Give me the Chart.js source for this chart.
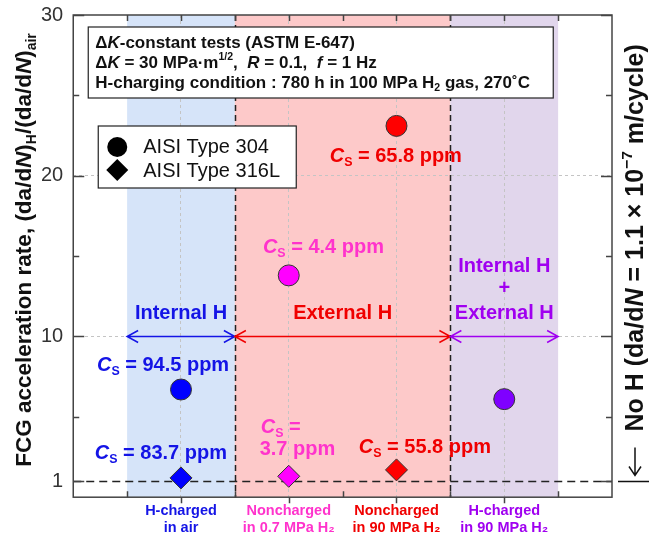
<!DOCTYPE html>
<html>
<head>
<meta charset="utf-8">
<script src="https://cdn.jsdelivr.net/npm/chart.js@4.4.0/dist/chart.umd.min.js"></script>
<style>
  body { margin: 0; background: #fff; }
</style>
</head>
<body>
<canvas id="chart" width="649" height="536"></canvas>
<script>
const categories = [['H-charged', 'in air'], ['Noncharged', 'in 0.7 MPa H₂'], ['Noncharged', 'in 90 MPa H₂'], ['H-charged', 'in 90 MPa H₂']]
const categoryPos = [1, 2, 3, 4]
const type304 = [6.7, 13.8, 23.1, 6.1]
const type316L = [1.2, 1.3, 1.7, null]
const pointColors = ['#0000ff', '#ff00ff', '#ff0000', '#7f00ff']
const textColors = ['#1414e6', '#ff33cc', '#f00000', '#a000f0']
const yTicks = [1, 5, 10, 15, 20, 25, 30]
const yLabeled = [1, 10, 20, 30]
const noHLevel = 1

const FAMILY = '"Liberation Sans", Arial, sans-serif'

function fnt(size, italic) {
    return (italic ? 'italic ' : '') + 'bold ' + size + 'px ' + FAMILY
}

// parts: {t, i (italic), sub, sup, n (normal weight)}
function richWidth(ctx, parts, size) {
    let w = 0
    parts.forEach(p => {
        let s = (p.sub || p.sup) ? size * 0.62 : size
        ctx.font = p.n ? (s + 'px ' + FAMILY) : fnt(s, p.i)
        w += ctx.measureText(p.t).width
    })
    return w
}

function drawRich(ctx, parts, x, y, size, color, align) {
    let w = richWidth(ctx, parts, size)
    let cx = align === 'center' ? x - w / 2 : x
    ctx.save()
    ctx.fillStyle = color
    ctx.textBaseline = 'middle'
    ctx.textAlign = 'left'
    parts.forEach(p => {
        let s = (p.sub || p.sup) ? size * 0.62 : size
        ctx.font = p.n ? (s + 'px ' + FAMILY) : fnt(s, p.i)
        let dy = p.sub ? size * 0.3 : (p.sup ? -size * 0.32 : 0)
        ctx.fillText(p.t, cx, y + dy)
        cx += ctx.measureText(p.t).width
    })
    ctx.restore()
}

function cs(value) {
    return [{t: 'C', i: true}, {t: 'S', sub: true}, {t: ' = ' + value + ' ppm'}]
}

function arrow(ctx, x1, x2, y, color) {
    ctx.save()
    ctx.strokeStyle = color
    ctx.lineWidth = 1.5
    ctx.beginPath()
    ctx.moveTo(x1, y); ctx.lineTo(x2, y)
    ctx.moveTo(x1 + 11, y - 6); ctx.lineTo(x1, y); ctx.lineTo(x1 + 11, y + 6)
    ctx.moveTo(x2 - 11, y - 6); ctx.lineTo(x2, y); ctx.lineTo(x2 - 11, y + 6)
    ctx.stroke()
    ctx.restore()
}

const bands = [[0.5, 1.5, '#d6e4f9'], [1.5, 3.5, '#fdc9c9'], [3.5, 4.5, '#e1d6ec']]

const backgroundPlugin = {
    id: 'bands',
    beforeDraw(chart) {
        const {ctx, chartArea: ca, scales: {x, y}} = chart
        ctx.save()
        bands.forEach(b => {
            ctx.fillStyle = b[2]
            ctx.fillRect(x.getPixelForValue(b[0]), ca.top, x.getPixelForValue(b[1]) - x.getPixelForValue(b[0]), ca.bottom - ca.top)
        })
        ctx.restore()
    },
    beforeDatasetsDraw(chart) {
        const {ctx, chartArea: ca, scales: {x, y}} = chart
        ctx.save()
        // separators
        ctx.strokeStyle = '#222'
        ctx.lineWidth = 1.5
        ctx.setLineDash([6, 4])
        ;[1.5, 3.5].forEach(v => {
            let px = Math.round(x.getPixelForValue(v)) + 0.5
            ctx.beginPath(); ctx.moveTo(px, ca.top); ctx.lineTo(px, ca.bottom); ctx.stroke()
        })
        // no-H reference
        let y1 = Math.round(y.getPixelForValue(noHLevel)) + 0.5
        ctx.setLineDash([8, 5])
        ctx.beginPath(); ctx.moveTo(ca.left, y1); ctx.lineTo(ca.right, y1); ctx.stroke()
        ctx.setLineDash([])

        // frame and ticks
        ctx.strokeStyle = '#444'
        ctx.lineWidth = 1.5
        ctx.strokeRect(ca.left, ca.top, ca.right - ca.left, ca.bottom - ca.top)
        ctx.beginPath()
        yTicks.forEach(v => {
            let py = Math.round(y.getPixelForValue(v)) + 0.5
            let len = yLabeled.includes(v) ? 11 : 6
            ctx.moveTo(ca.left, py); ctx.lineTo(ca.left + len, py)
            ctx.moveTo(ca.right, py); ctx.lineTo(ca.right - len, py)
        })
        for (let v = 0.5; v < 5; v += 0.5) {
            let px = Math.round(x.getPixelForValue(v)) + 0.5
            ctx.moveTo(px, ca.top); ctx.lineTo(px, ca.top + 6)
            if (v % 1 === 0) {
                ctx.moveTo(px, ca.bottom); ctx.lineTo(px, ca.bottom + 6)
            } else {
                ctx.moveTo(px, ca.bottom); ctx.lineTo(px, ca.bottom - 6)
            }
        }
        ctx.stroke()

        // region arrows
        let ya = y.getPixelForValue(10)
        arrow(ctx, x.getPixelForValue(0.5), x.getPixelForValue(1.5), ya, '#1414e6')
        arrow(ctx, x.getPixelForValue(1.5), x.getPixelForValue(3.5), ya, '#f00000')
        arrow(ctx, x.getPixelForValue(3.5), x.getPixelForValue(4.5), ya, '#a000f0')
        ctx.restore()
    },
    afterDraw(chart) {
        const {ctx, chartArea: ca, scales: {x, y}} = chart
        const X = v => x.getPixelForValue(v)
        const Y = v => y.getPixelForValue(v)

        // condition box
        ctx.save()
        ctx.fillStyle = '#fff'
        ctx.strokeStyle = '#222'
        ctx.lineWidth = 1.2
        ctx.fillRect(ca.left + 15, ca.top + 12, 465, 71)
        ctx.strokeRect(ca.left + 15, ca.top + 12, 465, 71)
        ctx.restore()
        let bx = ca.left + 22
        drawRich(ctx, [{t: 'Δ'}, {t: 'K', i: true}, {t: '-constant tests (ASTM E-647)'}], bx, ca.top + 28, 17, '#111')
        drawRich(ctx, [{t: 'Δ'}, {t: 'K', i: true}, {t: ' = 30 MPa·m'}, {t: '1/2', sup: true}, {t: ',  '}, {t: 'R', i: true},
            {t: ' = 0.1,  '}, {t: 'f', i: true}, {t: ' = 1 Hz'}], bx, ca.top + 48, 17, '#111')
        drawRich(ctx, [{t: 'H-charging condition : 780 h in 100 MPa H'}, {t: '2', sub: true}, {t: ' gas, 270˚C'}], bx, ca.top + 68, 17, '#111')

        // legend box
        ctx.save()
        ctx.fillStyle = '#fff'
        ctx.strokeStyle = '#222'
        ctx.lineWidth = 1.2
        ctx.fillRect(ca.left + 25, ca.top + 111, 198, 62)
        ctx.strokeRect(ca.left + 25, ca.top + 111, 198, 62)
        ctx.fillStyle = '#000'
        let lx = ca.left + 44
        ctx.beginPath(); ctx.arc(lx, ca.top + 132, 10, 0, Math.PI * 2); ctx.fill()
        let dy = ca.top + 155
        ctx.beginPath(); ctx.moveTo(lx, dy - 11); ctx.lineTo(lx + 11, dy); ctx.lineTo(lx, dy + 11); ctx.lineTo(lx - 11, dy); ctx.closePath(); ctx.fill()
        ctx.restore()
        drawRich(ctx, [{t: 'AISI Type 304', n: true}], ca.left + 70, ca.top + 132, 20, '#111')
        drawRich(ctx, [{t: 'AISI Type 316L', n: true}], ca.left + 70, ca.top + 156, 20, '#111')

        // concentration labels
        drawRich(ctx, cs('94.5'), X(0.22), Y(8.19), 20, textColors[0])
        drawRich(ctx, cs('83.7'), X(0.20), Y(2.71), 20, textColors[0])
        drawRich(ctx, cs('4.4'), X(1.76), Y(15.55), 20, textColors[1])
        drawRich(ctx, [{t: 'C', i: true}, {t: 'S', sub: true}, {t: ' ='}], X(1.74), Y(4.33), 20, textColors[1])
        drawRich(ctx, [{t: '3.7 ppm'}], X(1.73), Y(2.96), 20, textColors[1])
        drawRich(ctx, cs('65.8'), X(2.38), Y(21.21), 20, textColors[2])
        drawRich(ctx, cs('55.8'), X(2.65), Y(3.08), 20, textColors[2])

        // region names
        drawRich(ctx, [{t: 'Internal H'}], X(1), Y(11.43), 20, textColors[0], 'center')
        drawRich(ctx, [{t: 'External H'}], X(2.5), Y(11.43), 20, textColors[2], 'center')
        drawRich(ctx, [{t: 'Internal H'}], X(4), Y(14.36), 20, textColors[3], 'center')
        drawRich(ctx, [{t: '+'}], X(4), Y(12.99), 20, textColors[3], 'center')
        drawRich(ctx, [{t: 'External H'}], X(4), Y(11.43), 20, textColors[3], 'center')

        // y title
        ctx.save()
        ctx.translate(25, 250)
        ctx.rotate(-Math.PI / 2)
        drawRich(ctx, [{t: 'FCG acceleration rate, (da/d'}, {t: 'N', i: true}, {t: ')'}, {t: 'H', sub: true},
            {t: '/(da/d'}, {t: 'N', i: true}, {t: ')'}, {t: 'air', sub: true}], 0, 0, 22.5, '#111', 'center')
        ctx.restore()

        // no-H note on the right
        let y1 = Math.round(Y(noHLevel)) + 0.5
        ctx.save()
        ctx.strokeStyle = '#111'
        ctx.lineWidth = 1.5
        ctx.beginPath()
        ctx.moveTo(ca.right + 6, y1); ctx.lineTo(649, y1)
        ctx.moveTo(635, y1 - 34); ctx.lineTo(635, y1 - 6)
        ctx.moveTo(629, y1 - 15); ctx.lineTo(635, y1 - 6); ctx.lineTo(641, y1 - 15)
        ctx.stroke()
        ctx.translate(636, y1 - 50)
        ctx.rotate(-Math.PI / 2)
        drawRich(ctx, [{t: 'No H (da/d'}, {t: 'N', i: true}, {t: ' = 1.1 × 10'}, {t: '−7', sup: true}, {t: ' m/cycle)'}], 0, 0, 25, '#111')
        ctx.restore()
    }
}

const ctx = document.getElementById('chart')

new Chart(ctx, {
    type: 'scatter',
    data: {
        datasets: [
            {
                label: 'AISI Type 304',
                data: categoryPos.map((v, i) => ({x: v, y: type304[i]})),
                pointStyle: 'circle',
                pointRadius: 10.5,
                pointBackgroundColor: pointColors,
                pointBorderColor: '#333',
                pointBorderWidth: 1
            },
            {
                label: 'AISI Type 316L',
                data: categoryPos.map((v, i) => ({x: v, y: type316L[i]})).filter(p => p.y !== null),
                pointStyle: 'rectRot',
                pointRadius: 11,
                pointBackgroundColor: pointColors,
                pointBorderColor: '#333',
                pointBorderWidth: 1
            }
        ]
    },
    options: {
        responsive: false,
        animation: false,
        devicePixelRatio: 1,
        layout: {padding: {left: 31, right: 37, top: 15, bottom: -6}},
        plugins: {
            legend: {display: false},
            tooltip: {enabled: false}
        },
        scales: {
            x: {
                type: 'linear',
                min: 0,
                max: 5,
                afterBuildTicks: scale => { scale.ticks = categoryPos.map(v => ({value: v})) },
                ticks: {
                    callback: (value, index) => categories[index],
                    color: c => textColors[c.index],
                    font: {family: FAMILY, size: 14.5, weight: 'bold', lineHeight: 1.2},
                    padding: 5,
                    maxRotation: 0,
                    autoSkip: false
                },
                grid: {color: '#c4c4c4', drawTicks: false, lineWidth: 1},
                border: {display: false, dash: [3, 3]}
            },
            y: {
                min: 0,
                max: 30,
                afterBuildTicks: scale => { scale.ticks = yTicks.map(v => ({value: v})) },
                ticks: {
                    callback: value => yLabeled.includes(value) ? String(value) : '',
                    color: '#333',
                    font: {family: FAMILY, size: 20, lineHeight: 0.5},
                    padding: 10
                },
                grid: {
                    color: c => (c.tick && (c.tick.value === 10 || c.tick.value === 20)) ? '#c4c4c4' : 'transparent',
                    drawTicks: false,
                    lineWidth: 1
                },
                border: {display: false, dash: [3, 3]}
            }
        }
    },
    plugins: [backgroundPlugin]
})
</script>
</body>
</html>
